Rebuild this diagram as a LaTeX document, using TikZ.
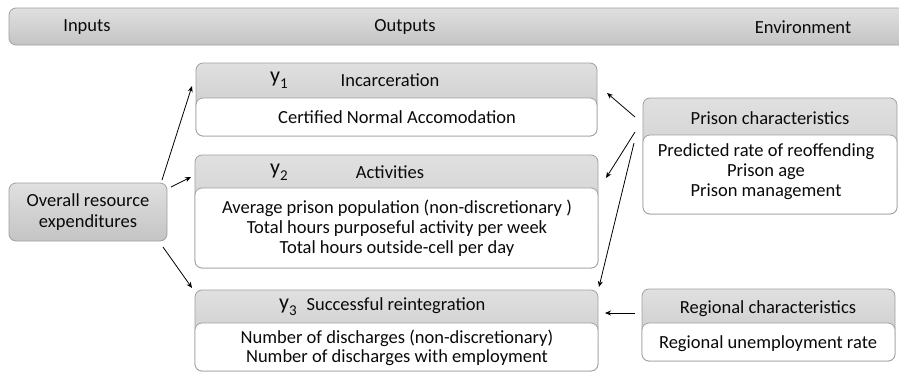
\documentclass[tikz,border=0pt]{standalone}
\usepackage{fontspec}
\setmainfont{Carlito}
\usetikzlibrary{arrows.meta}
\definecolor{gtop}{RGB}{224,224,224}
\definecolor{gbot}{RGB}{196,196,196}
\definecolor{bgray}{RGB}{160,160,160}
\definecolor{tx}{RGB}{10,10,10}
\tikzset{
  hdr/.style={draw=bgray, rounded corners=7pt, top color=gtop, bottom color=gbot, line width=0.8pt, anchor=north west, inner sep=0pt, outer sep=0pt},
  body/.style={draw=bgray, rounded corners=7pt, fill=white, line width=0.8pt, anchor=north west, inner sep=0pt, outer sep=0pt},
  txt/.style={font=\fontsize{18.5}{20.5}\selectfont, text=tx, align=center, inner sep=0pt},
  ylab/.style={font=\fontsize{22}{22}\selectfont, text=tx, inner sep=0pt},
  arr/.style={-{Stealth[length=6pt,width=5pt]}, line width=0.8pt},
}
\newcommand{\boxat}[6]{% name, x1, y1, x2, ymid, y2
  \node[hdr, minimum width=#4pt-#2pt, minimum height=#6pt-#3pt] (#1) at (#2,#3) {};
  \node[body, minimum width=#4pt-#2pt, minimum height=#6pt-#5pt] (#1b) at (#2,#5) {};
}
\newcommand{\ysub}[1]{y\raisebox{-0.28em}{\fontsize{15}{15}\selectfont #1}}
\begin{document}
\begin{tikzpicture}[x=1pt,y=-1pt]
\useasboundingbox (0,0) rectangle (899,375);
% top bar
\node[hdr, minimum width=910pt, minimum height=37pt] (bar) at (9,8) {};
\node[txt] (tin) at (87,27) {Inputs};
\node[txt] (tout) at (405,27) {Outputs};
\node[txt] (tenv) at (803,27) {Environment};
% input box
\node[hdr, minimum width=158pt, minimum height=58pt] (ov) at (9,183) {};
\node[txt] (ovt) at (88,212) {Overall resource\\expenditures};
% y1
\boxat{yone}{196}{63}{597}{98}{136}
\node[ylab] (yonel) at (279,80) {\ysub{1}};
\node[txt] (yoneh) at (390,80) {Incarceration};
\node[txt] (yonet) at (397,117) {Certified Normal Accomodation};
% y2
\boxat{ytwo}{195}{155}{598}{188}{268}
\node[ylab] (ytwol) at (279,172) {\ysub{2}};
\node[txt] (ytwoh) at (390,172) {Activities};
\node[txt, font=\fontsize{18.5}{20}\selectfont] (ytwot) at (397,228) {Average prison population (non-discretionary )\\Total hours purposeful activity per week\\Total hours outside-cell per day};
% y3
\boxat{ythree}{195}{290}{598}{323}{371}
\node[ylab] (ythreel) at (288,307) {\ysub{3}};
\node[txt] (ythreeh) at (396,306) {Successful reintegration};
\node[txt, font=\fontsize{18.5}{19.5}\selectfont] (ythreet) at (397,348) {Number of discharges (non-discretionary)\\Number of discharges with employment};
% prison
\boxat{pc}{643}{98}{897}{135}{214}
\node[txt] (pch) at (770,118) {Prison characteristics};
\node[txt, font=\fontsize{18.5}{20}\selectfont] (pct) at (766,172) {Predicted rate of reoffending\\Prison age\\Prison management};
% regional
\boxat{rc}{642}{289}{895}{323}{361}
\node[txt] (rch) at (768,309) {Regional characteristics};
\node[txt] (rct) at (768,344) {Regional unemployment rate};
% arrow end points
\coordinate (a1s) at (162,180); \coordinate (a1e) at (192,86);
\coordinate (a2s) at (171,187); \coordinate (a2e) at (191,177);
\coordinate (a3s) at (163,247); \coordinate (a3e) at (192,288);
\coordinate (b1s) at (635,117); \coordinate (b1e) at (607,93);
\coordinate (b2s) at (635,132); \coordinate (b2e) at (606,178);
\coordinate (b3s) at (634,143); \coordinate (b3e) at (599,287);
\coordinate (c1s) at (635,313); \coordinate (c1e) at (605,313);
\draw[arr] (a1s) -- (a1e);
\draw[arr] (a2s) -- (a2e);
\draw[arr] (a3s) -- (a3e);
\draw[arr] (b1s) -- (b1e);
\draw[arr] (b2s) -- (b2e);
\draw[arr] (b3s) -- (b3e);
\draw[arr] (c1s) -- (c1e);
\end{tikzpicture}
\end{document}
